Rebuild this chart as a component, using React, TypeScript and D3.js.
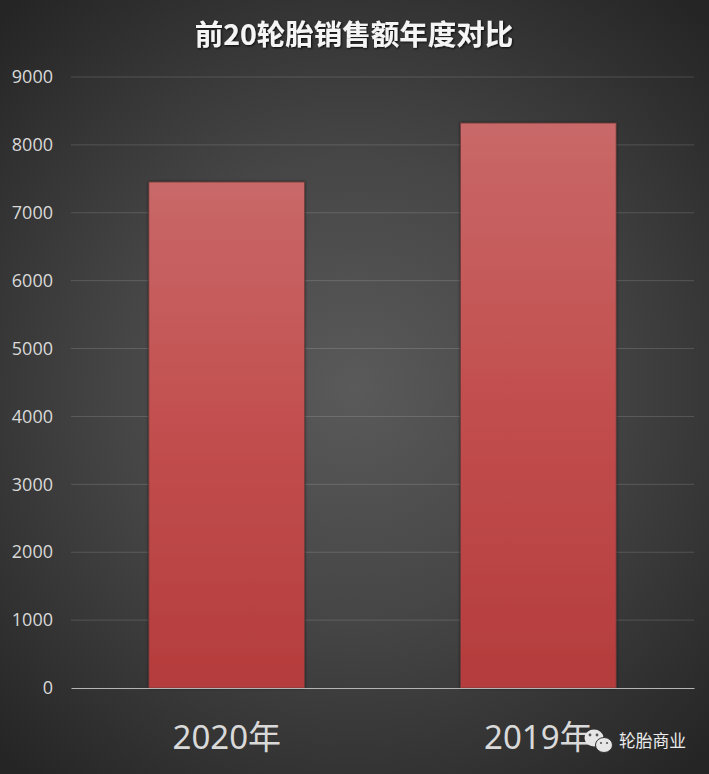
import React, { useEffect, useRef } from "react";
import * as d3 from "d3";

const categories = ["2020年", "2019年"];
const sales = [7453, 8322];
const yTicks = [0, 1000, 2000, 3000, 4000, 5000, 6000, 7000, 8000, 9000];

const title = "前20轮胎销售额年度对比";
const watermark = "轮胎商业";
const cjk = '"Noto Sans CJK SC", "Noto Sans", sans-serif';
const latin = '"Open Sans", "Noto Sans CJK SC", sans-serif';

const App: React.FC = () => {
  const svgRef = useRef<SVGSVGElement | null>(null);

  useEffect(() => {
    if (!svgRef.current) return;

    const width = 709;
    const height = 774;
    const margin = { top: 77, right: 15, bottom: 86, left: 71 };

    const svg = d3.select(svgRef.current);
    svg.selectAll("*").remove();
    svg.attr("width", width).attr("height", height);

    const defs = svg.append("defs");

    // background glow
    const bg = defs
      .append("radialGradient")
      .attr("id", "bg")
      .attr("gradientUnits", "userSpaceOnUse")
      .attr("cx", 354)
      .attr("cy", 387)
      .attr("r", 510);
    bg.append("stop").attr("offset", "0%").attr("stop-color", "#5a5a5a");
    bg.append("stop").attr("offset", "45%").attr("stop-color", "#464646");
    bg.append("stop").attr("offset", "100%").attr("stop-color", "#252525");

    // bars fade from pale at the top to deep red
    const barFill = defs
      .append("linearGradient")
      .attr("id", "barFill")
      .attr("x1", 0)
      .attr("y1", 0)
      .attr("x2", 0)
      .attr("y2", 1);
    barFill.append("stop").attr("offset", "0%").attr("stop-color", "#c96868");
    barFill.append("stop").attr("offset", "50%").attr("stop-color", "#c24e4e");
    barFill.append("stop").attr("offset", "100%").attr("stop-color", "#b53c3c");

    const shadow = defs
      .append("filter")
      .attr("id", "barShadow")
      .attr("x", "-10%")
      .attr("y", "-10%")
      .attr("width", "120%")
      .attr("height", "120%");
    shadow
      .append("feDropShadow")
      .attr("dx", 0)
      .attr("dy", 0)
      .attr("stdDeviation", 1.5)
      .attr("flood-color", "#000")
      .attr("flood-opacity", 0.6);

    const titleShadow = defs.append("filter").attr("id", "titleShadow");
    titleShadow
      .append("feDropShadow")
      .attr("dx", 1)
      .attr("dy", 1)
      .attr("stdDeviation", 1)
      .attr("flood-color", "#000")
      .attr("flood-opacity", 0.8);

    svg
      .append("rect")
      .attr("width", width)
      .attr("height", height)
      .attr("fill", "url(#bg)");

    const x = d3
      .scaleBand<string>()
      .domain(categories)
      .range([margin.left, width - margin.right])
      .paddingInner(0.5)
      .paddingOuter(0.25);

    const y = d3
      .scaleLinear()
      .domain([0, 9000])
      .range([height - margin.bottom, margin.top]);

    // gridlines
    svg
      .append("g")
      .selectAll("line")
      .data(yTicks.filter((d) => d > 0))
      .enter()
      .append("line")
      .attr("x1", margin.left)
      .attr("x2", width - margin.right)
      .attr("y1", (d) => y(d))
      .attr("y2", (d) => y(d))
      .attr("stroke", "#fff")
      .attr("stroke-opacity", 0.15)
      .attr("stroke-width", 1);

    // bars
    svg
      .append("g")
      .selectAll("rect")
      .data(categories)
      .enter()
      .append("rect")
      .attr("x", (d) => x(d)!)
      .attr("y", (_, i) => y(sales[i]))
      .attr("width", x.bandwidth())
      .attr("height", (_, i) => y(0) - y(sales[i]))
      .attr("fill", "url(#barFill)")
      .attr("stroke", "#6b3a38")
      .attr("stroke-width", 0.75)
      .attr("filter", "url(#barShadow)");

    // y axis labels
    const yAxis = svg
      .append("g")
      .attr("transform", `translate(${margin.left},0)`)
      .call(
        d3
          .axisLeft(y)
          .tickValues(yTicks)
          .tickSize(0)
          .tickPadding(18)
          .tickFormat(d3.format("d") as any)
      );
    yAxis.select(".domain").remove();
    yAxis
      .selectAll("text")
      .attr("fill", "#d9d9d9")
      .style("font-family", latin)
      .style("font-size", "18px");

    // x axis
    const xAxis = svg
      .append("g")
      .attr("transform", `translate(0,${y(0)})`)
      .call(d3.axisBottom(x).tickSize(0).tickPadding(38));
    xAxis
      .select(".domain")
      .attr("stroke", "#b4b4b4")
      .attr("stroke-width", 1);
    xAxis
      .selectAll("text")
      .attr("fill", "#d9d9d9")
      .style("font-family", '"Noto Sans", "Noto Sans CJK SC", sans-serif')
      .style("font-size", "33px");

    svg
      .append("text")
      .attr("x", 354)
      .attr("y", 45)
      .attr("text-anchor", "middle")
      .attr("fill", "#f5f5f5")
      .attr("filter", "url(#titleShadow)")
      .style("font-family", cjk)
      .style("font-size", "28.5px")
      .style("font-weight", 700)
      .text(title);

    // WeChat style watermark
    const mark = svg.append("g").attr("fill", "#e6e6e6");
    mark.append("ellipse").attr("cx", 594).attr("cy", 738).attr("rx", 9.5).attr("ry", 8.5);
    mark
      .append("ellipse")
      .attr("cx", 604)
      .attr("cy", 745)
      .attr("rx", 8.5)
      .attr("ry", 7.5)
      .attr("stroke", "#333")
      .attr("stroke-width", 1);
    mark.append("circle").attr("cx", 590).attr("cy", 735).attr("r", 1.4).attr("fill", "#555");
    mark.append("circle").attr("cx", 597).attr("cy", 735).attr("r", 1.4).attr("fill", "#555");
    mark.append("circle").attr("cx", 601).attr("cy", 743).attr("r", 1.1).attr("fill", "#555");
    mark.append("circle").attr("cx", 607).attr("cy", 743).attr("r", 1.1).attr("fill", "#555");

    svg
      .append("text")
      .attr("x", 619)
      .attr("y", 747)
      .attr("fill", "#ececec")
      .style("font-family", cjk)
      .style("font-size", "16.8px")
      .text(watermark);
  }, []);

  return (
    <svg
      ref={svgRef}
      style={{ position: "absolute", left: 0, top: 0, display: "block" }}
    ></svg>
  );
};

export default App;
